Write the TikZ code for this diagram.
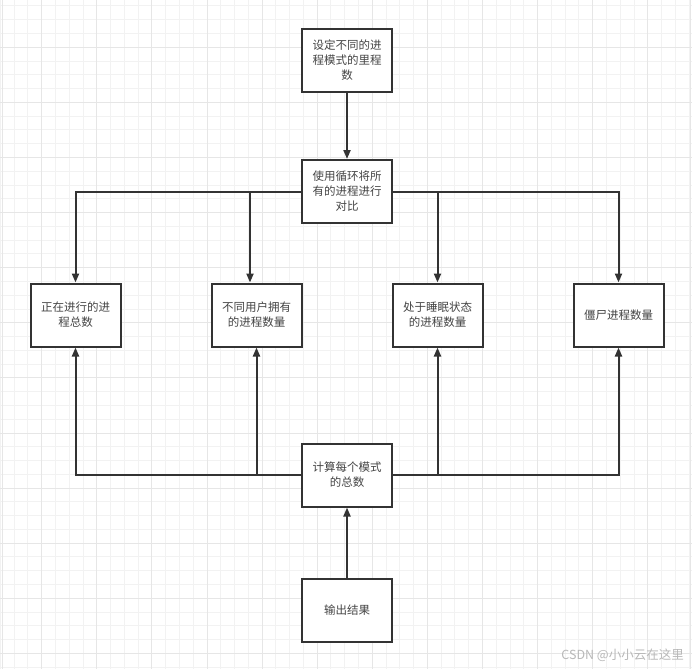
\documentclass[tikz,border=0pt]{standalone}
\usepackage{fontspec}
\setmainfont{Noto Sans CJK SC}
\usetikzlibrary{arrows.meta}
\definecolor{gridminor}{HTML}{F2F2F2}
\definecolor{gridmajor}{HTML}{E6E6E6}
\definecolor{ink}{HTML}{333333}
\definecolor{textgray}{HTML}{444444}
\tikzset{box/.style={draw=ink,line width=2pt,fill=white,align=center,text width=84pt,minimum width=90pt,minimum height=63pt,inner sep=0pt,text=textgray,font=\fontsize{11.5}{15}\selectfont},arrow/.style={-{Triangle[length=9pt,width=7pt]},draw=ink,line width=2pt},wmark/.style={font=\fontsize{12.5}{14}\selectfont,text=black!28,inner sep=0pt}}

\begin{document}
\begin{tikzpicture}[x=1pt,y=-1pt]
\useasboundingbox (0,0) rectangle (692,669);
\fill[white] (0,0) rectangle (692,669);
\foreach \i in {0,...,50}{\draw[gridminor,line width=1pt] (0.375+13.775*\i,0) -- ++(0,669);}
\foreach \i in {0,...,48}{\draw[gridminor,line width=1pt] (0,5.975+13.775*\i) -- ++(692,0);}
\foreach \i in {0,...,11}{\draw[gridmajor,line width=1pt] (41.7+55.1*\i,0) -- ++(0,669);\draw[gridmajor,line width=1pt] (0,47.3+55.1*\i) -- ++(692,0);}
\draw[gridmajor,line width=1pt] (2.7,0) -- ++(0,669) (690.7,0) -- ++(0,669);
\node[box] (mode) at (347,60.5) {设定不同的进\\程模式的里程\\数};
\node[box] (loop) at (347,191.5) {使用循环将所\\有的进程进行\\对比};
\node[box] (run) at (75.5,315) {正在进行的进\\程总数};
\node[box] (user) at (256.5,315) {不同用户拥有\\的进程数量};
\node[box] (sleep) at (437.5,315) {处于睡眠状态\\的进程数量};
\node[box] (zombie) at (618.5,315) {僵尸进程数量};
\node[box] (count) at (347,475) {计算每个模式\\的总数};
\node[box] (result) at (347,610.5) {输出结果};
\coordinate (userin) at ([xshift=-6.5pt]user.north);
\foreach \a/\b in {mode/loop,result/count}{\draw[arrow](\a)--(\b);}
\draw[arrow] (loop.west) -| (run.north);
\draw[arrow] (loop.west -| userin) -- (userin);
\draw[arrow] (loop.east) -| (zombie.north);
\draw[arrow] (loop.east -| sleep.north) -- (sleep.north);
\draw[arrow] (count.west) -| (run.south);
\draw[arrow] (count.west -| user.south) -- (user.south);
\draw[arrow] (count.east) -| (zombie.south);
\draw[arrow] (count.east -| sleep.south) -- (sleep.south);
\node[wmark,anchor=east] (csdn) at (684,655) {CSDN @小小云在这里};

\end{tikzpicture}
\end{document}
